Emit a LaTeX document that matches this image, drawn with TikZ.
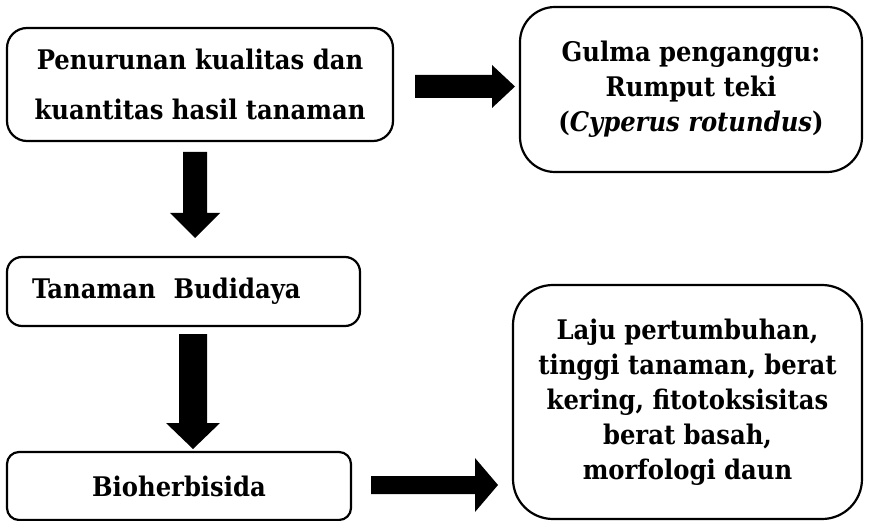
\documentclass[tikz,border=0pt]{standalone}
\usepackage{fontspec}
\setmainfont{DejaVu Serif Condensed}
\usetikzlibrary{positioning}
\tikzset{
  box/.style={draw=black, line width=2.2pt, rectangle, inner sep=0pt, font=\bfseries\fontsize{27}{35}\selectfont},
  blockarrow/.style={fill=black, draw=none}
}
\begin{document}
\begin{tikzpicture}[x=1pt,y=-1pt]
\useasboundingbox (0,0) rectangle (886,521);
% boxes
\node[box, rounded corners=20pt, minimum width=386pt, minimum height=113pt, align=center] (b1) at (200,84.5) {Penurunan kualitas dan\\[15pt]kuantitas hasil tanaman};
\node[box, rounded corners=35pt, minimum width=342pt, minimum height=165pt, align=center] (b2) at (691,89.5) {Gulma penganggu:\\Rumput teki\\(\textit{Cyperus rotundus})};
\node[box, rounded corners=15pt, minimum width=353pt, minimum height=69pt, align=left, text width=303pt, inner xsep=25pt] (b3) at (183.5,291.5) {Tanaman\ \ Budidaya};
\node[box, rounded corners=12pt, minimum width=344pt, minimum height=68pt, align=center] (b4) at (179,486) {Bioherbisida};
\node[box, rounded corners=40pt, minimum width=349pt, minimum height=234pt, align=center] (b5) at (687.5,402) {Laju pertumbuhan,\\tinggi tanaman, berat\\kering, fitotoksisitas\\berat basah,\\morfologi daun};
% block arrows
\fill[blockarrow] (415,75) -- (492,75) -- (492,65) -- (515,86.5) -- (492,108) -- (492,98) -- (415,98) -- cycle;
\fill[blockarrow] (183,152) -- (207,152) -- (207,213) -- (220,213) -- (195,238) -- (170,213) -- (183,213) -- cycle;
\fill[blockarrow] (179,334) -- (207,334) -- (207,423) -- (220,423) -- (193,449) -- (166,423) -- (179,423) -- cycle;
\fill[blockarrow] (371,476) -- (475,476) -- (475,458) -- (498,485) -- (475,512) -- (475,494) -- (371,494) -- cycle;
\end{tikzpicture}
\end{document}
